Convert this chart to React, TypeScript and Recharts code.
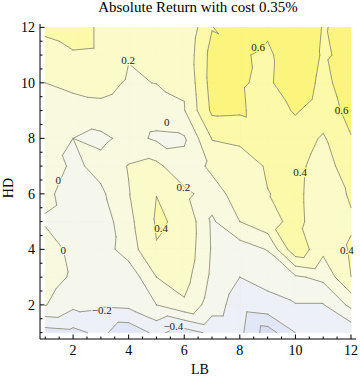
import React from 'react';
import { ScatterChart, Scatter, XAxis, YAxis } from 'recharts';

// LB (x) and HD (y) grid positions
const lbValues = [1, 2, 3, 4, 5, 6, 7, 8, 9, 10, 11, 12];
const hdValues = [1, 2, 3, 4, 5, 6, 7, 8, 9, 10, 11, 12];

// absolute return for each HD row, LB = 1..12
const hd1 = [-0.49, -0.454, -0.35, -0.54, -0.35, -0.5, -0.35, -0.35, -0.7, -0.4, -0.35, -0.35];
const hd2 = [0.01, -0.15, -0.17, -0.15, 0.0, 0.17, -0.1, -0.3, -0.25, -0.21, -0.21, 0.05];
const hd3 = [0.1, -0.03, -0.1, -0.133, 0.2, 0.28, -0.042, -0.2, -0.15, -0.03, 0.05, 0.3996];
const hd4 = [0.137, -0.074, -0.104, 0.1, 0.39, 0.35, -0.02, -0.1, 0.01, 0.55, 0.25, 0.42];
const hd5 = [-0.03, -0.1, -0.12, 0.145, 0.42, 0.37, -0.03, 0.2, 0.34, 0.45, 0.3, 0.38];
const hd6 = [0.07, -0.14, -0.04, 0.19, 0.398, 0.254, 0.1, 0.3, 0.395, 0.443, 0.3, 0.42];
const hd7 = [0.16, -0.05, 0.07, 0.21, 0.25, 0.05, 0.25, 0.3, 0.42, 0.45, 0.32, 0.5];
const hd8 = [0.08, 0.0, -0.05, 0.07, -0.03, -0.02, 0.41, 0.44, 0.5, 0.5, 0.378, 0.59];
const hd9 = [0.1, 0.1, 0.145, 0.1, 0.08, 0.19, 0.64, 0.63, 0.5, 0.62, 0.5, 0.66];
const hd10 = [0.2, 0.26, 0.27, 0.177, 0.205, 0.22, 0.68, 0.62, 0.56, 0.75, 0.54, 0.72];
const hd11 = [0.36, 0.38, 0.37, 0.21, 0.26, 0.25, 0.67, 0.633, 0.55, 0.78, 0.575, 0.655];
const hd12 = [0.42, 0.49, 0.37, 0.3, 0.28, 0.22, 0.59, 0.78, 0.65, 0.757, 0.59, 0.646];
const returnGrid = [hd1, hd2, hd3, hd4, hd5, hd6, hd7, hd8, hd9, hd10, hd11, hd12];

const contourLevels = [-0.6, -0.4, -0.2, 0, 0.2, 0.4, 0.6];
const bandColors = ['#d8dcf6', '#e2e7f8', '#edf0f6', '#f5f7ed', '#f9f9e0', '#fbfbca', '#fcf9a8', '#fbf57e'];

const contourLabels = [
  { x: 3.98, y: 10.82, text: '0.2' },
  { x: 8.66, y: 11.3, text: '0.6' },
  { x: 11.66, y: 9.02, text: '0.6' },
  { x: 5.37, y: 8.6, text: '0' },
  { x: 5.97, y: 6.26, text: '0.2' },
  { x: 10.17, y: 6.8, text: '0.4' },
  { x: 1.47, y: 6.5, text: '0' },
  { x: 5.17, y: 4.78, text: '0.4' },
  { x: 1.65, y: 3.96, text: '0' },
  { x: 3.03, y: 1.82, text: '\u22120.2' },
  { x: 5.61, y: 1.24, text: '\u22120.4' },
  { x: 11.85, y: 3.98, text: '0.4' },
];

const lbTicks = [1, 1.5, 2, 2.5, 3, 3.5, 4, 4.5, 5, 5.5, 6, 6.5, 7, 7.5, 8, 8.5, 9, 9.5, 10, 10.5, 11, 11.5, 12];
const hdTicks = [1, 1.5, 2, 2.5, 3, 3.5, 4, 4.5, 5, 5.5, 6, 6.5, 7, 7.5, 8, 8.5, 9, 9.5, 10, 10.5, 11, 11.5, 12];
const lbLabelTicks = [2, 4, 6, 8, 10, 12];
const hdLabelTicks = [2, 4, 6, 8, 10, 12];

type V = { x: number; y: number; z: number };
type P = { x: number; y: number };

const triangles: V[][] = [];
for (let j = 0; j < hdValues.length - 1; j++) {
  for (let i = 0; i < lbValues.length - 1; i++) {
    const v = (ii: number, jj: number): V => ({ x: lbValues[ii], y: hdValues[jj], z: returnGrid[jj][ii] });
    const a = v(i, j), b = v(i + 1, j), c = v(i, j + 1), d = v(i + 1, j + 1);
    triangles.push([a, b, c]);
    triangles.push([d, c, b]);
  }
}

function clip(poly: V[], t: number, above: boolean): V[] {
  const out: V[] = [];
  const inside = (p: V) => (above ? p.z >= t : p.z <= t);
  for (let i = 0; i < poly.length; i++) {
    const a = poly[i];
    const b = poly[(i + 1) % poly.length];
    const ia = inside(a), ib = inside(b);
    if (ia) out.push(a);
    if (ia !== ib) {
      const s = (t - a.z) / (b.z - a.z);
      out.push({ x: a.x + s * (b.x - a.x), y: a.y + s * (b.y - a.y), z: t });
    }
  }
  return out;
}
function area(p: V[]) {
  let s = 0;
  for (let i = 0; i < p.length; i++) {
    const a = p[i], b = p[(i + 1) % p.length];
    s += a.x * b.y - b.x * a.y;
  }
  return Math.abs(s / 2);
}

// interpolated value at a data position (same triangulation)
function valueAt(x: number, y: number): number {
  for (const t of triangles) {
    const [a, b, c] = t;
    const det = (b.y - c.y) * (a.x - c.x) + (c.x - b.x) * (a.y - c.y);
    const l1 = ((b.y - c.y) * (x - c.x) + (c.x - b.x) * (y - c.y)) / det;
    const l2 = ((c.y - a.y) * (x - c.x) + (a.x - c.x) * (y - c.y)) / det;
    const l3 = 1 - l1 - l2;
    if (l1 >= -1e-9 && l2 >= -1e-9 && l3 >= -1e-9) return l1 * a.z + l2 * b.z + l3 * c.z;
  }
  return 0;
}
function bandColorAt(x: number, y: number): string {
  const z = valueAt(x, y);
  let k = 0;
  while (k < contourLevels.length && z >= contourLevels[k]) k++;
  return bandColors[k];
}

const bands = bandColors.map((color, k) => {
  const lo = k === 0 ? -Infinity : contourLevels[k - 1];
  const hi = k === contourLevels.length ? Infinity : contourLevels[k];
  const pts: P[] = [];
  const sizes: number[] = [];
  for (const t of triangles) {
    let p = t;
    if (lo > -Infinity) p = clip(p, lo, true);
    if (p.length >= 3 && hi < Infinity) p = clip(p, hi, false);
    if (p.length >= 3 && area(p) > 1e-9) {
      sizes.push(p.length);
      p.forEach((q) => pts.push({ x: q.x, y: q.y }));
    }
  }
  return { color, pts, sizes };
});

const contourSegments = contourLevels.map((L) => {
  const pts: P[] = [];
  for (const t of triangles) {
    const cross: P[] = [];
    for (let e = 0; e < 3; e++) {
      const a = t[e], b = t[(e + 1) % 3];
      if ((a.z >= L) !== (b.z >= L)) {
        const s = (L - a.z) / (b.z - a.z);
        cross.push({ x: a.x + s * (b.x - a.x), y: a.y + s * (b.y - a.y) });
      }
    }
    if (cross.length === 2) pts.push(cross[0], cross[1]);
  }
  return pts;
});

const labelData = contourLabels.map((l) => ({ ...l, halo: bandColorAt(l.x, l.y) }));

const noShape = () => <g />;

const fillLine = (sizes: number[], color: string) => (props: any) => {
  const pts = props.points || [];
  let d = '';
  let k = 0;
  for (const n of sizes) {
    for (let i = 0; i < n; i++) {
      const p = pts[k + i];
      if (!p) continue;
      d += (i === 0 ? 'M' : 'L') + p.x.toFixed(2) + ',' + p.y.toFixed(2);
    }
    d += 'Z';
    k += n;
  }
  return <path d={d} fill={color} stroke={color} strokeWidth={0.7} />;
};

const segLine = (props: any) => {
  const pts = props.points || [];
  let d = '';
  for (let i = 0; i + 1 < pts.length; i += 2) {
    d += 'M' + pts[i].x.toFixed(2) + ',' + pts[i].y.toFixed(2) + 'L' + pts[i + 1].x.toFixed(2) + ',' + pts[i + 1].y.toFixed(2);
  }
  return <path d={d} fill="none" stroke="#8e8e7a" strokeWidth={0.9} strokeLinecap="round" />;
};

const labelShape = (props: any) => (
  <text
    x={props.cx}
    y={props.cy + 4}
    textAnchor="middle"
    fontFamily="'Liberation Serif', serif"
    fontSize={11}
    fill="#222"
    stroke={props.payload.halo}
    strokeWidth={2.5}
    paintOrder="stroke"
  >
    {props.payload.text}
  </text>
);

const font = "'Liberation Serif', 'Times New Roman', serif";

const BottomTick = (props: any) => {
  const { x, y, payload } = props;
  const major = lbLabelTicks.includes(payload.value);
  return (
    <g>
      <line x1={x} x2={x} y1={y} y2={y - (major ? 4.5 : 2.5)} stroke="#000" strokeWidth={1} />
      {major && (
        <text x={x} y={y + 16} textAnchor="middle" fontFamily={font} fontSize={14} fill="#000">
          {payload.value}
        </text>
      )}
    </g>
  );
};
const TopTick = (props: any) => {
  const { x, y, payload } = props;
  const major = lbLabelTicks.includes(payload.value);
  return <line x1={x} x2={x} y1={y} y2={y + (major ? 4.5 : 2.5)} stroke="#000" strokeWidth={1} />;
};
const LeftTick = (props: any) => {
  const { x, y, payload } = props;
  const major = hdLabelTicks.includes(payload.value);
  return (
    <g>
      <line x1={x} x2={x + (major ? 4.5 : 2.5)} y1={y} y2={y} stroke="#000" strokeWidth={1} />
      {major && (
        <text x={x - 5} y={y + 4.7} textAnchor="end" fontFamily={font} fontSize={14} fill="#000">
          {payload.value}
        </text>
      )}
    </g>
  );
};
const RightTick = (props: any) => {
  const { x, y, payload } = props;
  const major = hdLabelTicks.includes(payload.value);
  return <line x1={x} x2={x - (major ? 4.5 : 2.5)} y1={y} y2={y} stroke="#000" strokeWidth={1} />;
};

const xDomain: [number, number] = [0.81, 12.18];
const yDomain: [number, number] = [0.77, 12.12];

export default function App() {
  return (
    <div style={{ position: 'absolute', left: 0, top: 0, width: 360, height: 380, background: '#fff' }}>
      <div style={{ position: 'absolute', left: 40, top: 0, width: 316, textAlign: 'center', fontFamily: font, fontSize: 15, lineHeight: '14px', color: '#000' }}>
        Absolute Return with cost 0.35%
      </div>
      <div style={{ position: 'absolute', left: 42, top: 363, width: 316, textAlign: 'center', fontFamily: font, fontSize: 14, lineHeight: '14px', color: '#000' }}>
        LB
      </div>
      <div style={{ position: 'absolute', left: -11, top: 181, width: 40, height: 14, textAlign: 'center', fontFamily: font, fontSize: 14, lineHeight: '14px', color: '#000', transform: 'rotate(-90deg)' }}>
        HD
      </div>
      <div style={{ position: 'absolute', left: 0, top: 0 }}>
        <ScatterChart width={360} height={380} margin={{ top: 24, right: 4, bottom: 0, left: 0 }}>
          <XAxis type="number" dataKey="x" domain={xDomain} allowDataOverflow ticks={lbTicks} interval={0} tickSize={0} tickMargin={0} tickLine={false} axisLine={{ stroke: '#000' }} height={41} tick={BottomTick} />
          <XAxis xAxisId="top" orientation="top" type="number" domain={xDomain} allowDataOverflow ticks={lbTicks} interval={0} tickSize={0} tickMargin={0} tickLine={false} axisLine={{ stroke: '#000' }} height={0} tick={TopTick} />
          <YAxis type="number" dataKey="y" domain={yDomain} allowDataOverflow ticks={hdTicks} interval={0} tickSize={0} tickMargin={0} tickLine={false} axisLine={{ stroke: '#000' }} width={40} tick={LeftTick} />
          <YAxis yAxisId="right" orientation="right" type="number" domain={yDomain} allowDataOverflow ticks={hdTicks} interval={0} tickSize={0} tickMargin={0} tickLine={false} axisLine={{ stroke: '#000' }} width={0} tick={RightTick} />
          {bands.map((b, k) => (
            <Scatter key={'band' + k} data={b.pts} shape={noShape} line={fillLine(b.sizes, b.color)} lineType="joint" isAnimationActive={false} legendType="none" />
          ))}
          {contourSegments.map((s, k) => (
            <Scatter key={'line' + k} data={s} shape={noShape} line={segLine} lineType="joint" isAnimationActive={false} legendType="none" />
          ))}
          <Scatter data={labelData} shape={labelShape} isAnimationActive={false} legendType="none" />
        </ScatterChart>
      </div>
    </div>
  );
}
